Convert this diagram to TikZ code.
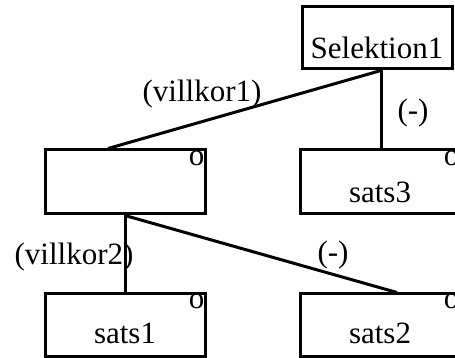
\documentclass[tikz,border=0pt]{standalone}
\usepackage{fontspec}
\setmainfont{Liberation Serif}
\begin{document}
\begin{tikzpicture}[x=1pt,y=1pt,
  box/.style={draw,line width=3pt,inner sep=0pt,minimum height=63pt},
  wide/.style={box,minimum width=160pt},
  txt/.style={inner sep=0pt,font=\fontsize{31}{36}\selectfont},
  conn/.style={line width=3pt}]
\useasboundingbox (0,0) rectangle (455,358);
\clip (0,0) rectangle (455,358);
% boxes
\node[box,minimum width=150pt,minimum height=62pt] (sel) at (377,320) {};
\node[wide,minimum height=64pt] (L) at (125,176) {};
\node[wide,minimum height=64pt] (s3) at (380,176) {};
\node[wide] (s1) at (125,32.5) {};
\node[wide] (s2) at (380,32.5) {};
% texts in boxes
\node[txt,anchor=base west] (tsel) at ([xshift=10pt,yshift=12pt]sel.south west) {Selektion1};
\node[txt,anchor=base] (ts3) at ([yshift=13pt]s3.south) {sats3};
\node[txt,anchor=base] (ts1) at ([yshift=15pt]s1.south) {sats1};
\node[txt,anchor=base] (ts2) at ([yshift=15pt]s2.south) {sats2};
% o markers
\node[txt,anchor=base east] (oL) at ([xshift=-2pt,yshift=-17pt]L.north east) {o};
\node[txt,anchor=base east] (o3) at ([xshift=-2pt,yshift=-17pt]s3.north east) {o};
\node[txt,anchor=base east] (o1) at ([xshift=-2pt,yshift=-16pt]s1.north east) {o};
\node[txt,anchor=base east] (o2) at ([xshift=-2pt,yshift=-16pt]s2.north east) {o};
% connectors
\coordinate (c1) at ([xshift=4pt]sel.south);
\coordinate (c2) at ([xshift=-17pt]L.north);
\coordinate (c3) at ([xshift=17pt]s2.north);
\draw[conn] (c1) -- (c2);
\draw[conn] (c1) -- (c1 |- s3.north);
\draw[conn] (L.south) -- (s1.north);
\draw[conn] (L.south) -- (c3);
% labels
\node[txt] (l1) at (202,264) {(villkor1)};
\node[txt] (l2) at (413,245) {(-)};
\node[txt] (l3) at (74,101) {(villkor2)};
\node[txt] (l4) at (333,103) {(-)};
\end{tikzpicture}
\end{document}
